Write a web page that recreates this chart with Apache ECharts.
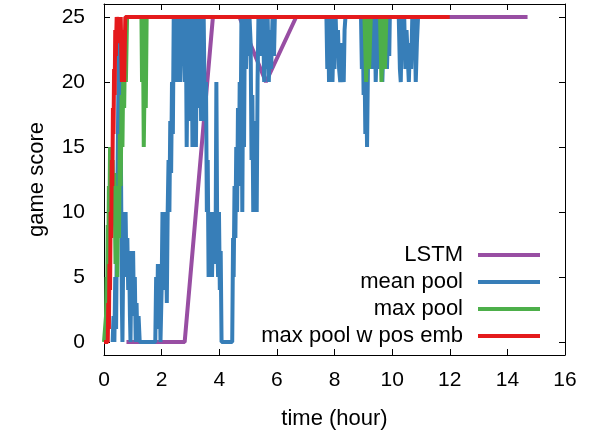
<!DOCTYPE html>
<html><head><meta charset="utf-8">
<script src="https://cdn.jsdelivr.net/npm/echarts@6/dist/echarts.min.js"></script>
<style>html,body{margin:0;padding:0;background:#fff}#c{width:590px;height:436px}</style>
</head><body><div id="c"></div>
<script>
const seriesNames = ['LSTM', 'mean pool', 'max pool', 'max pool w pos emb'];
const seriesColors = ['#984ea3', '#377eb8', '#4daf4a', '#e41a1c'];
const xTicks = [0, 2, 4, 6, 8, 10, 12, 14, 16];
const yTicks = [0, 5, 10, 15, 20, 25];

const lstm = [[0.78,0],[2.8,0],[3.78,25],[4.7,25],[5.62,20],[6.67,25],[14.7,25]];

const meanPool = [
  [0.3,0],[0.33,2],[0.36,0],[0.39,5],[0.42,1],[0.45,9],[0.48,15],[0.51,22],[0.54,25],[0.57,19],[0.6,10],[0.62,3],[0.64,0],
  [0.66,5],[0.69,10],[0.72,6],[0.75,10],[0.78,5],[0.81,8],[0.84,4],[0.87,7],[0.9,2],[0.92,0],[0.95,6],[0.98,3],[1.01,7],
  [1.04,2],[1.07,5],[1.1,0],[1.13,3],[1.16,0],[1.2,2],[1.24,0],[1.78,0],[1.81,5],[1.84,1],[1.87,6],[1.9,2],[1.93,6],[1.96,0],
  [2.0,4],[2.03,10],[2.06,6],[2.09,10],[2.12,4],[2.15,8],[2.18,3],[2.21,10],[2.24,14],[2.27,10],[2.3,17],[2.33,13],[2.36,20],
  [2.39,16],[2.42,25],[2.46,25],[2.5,20],[2.53,25],[2.57,21],[2.6,25],[2.64,20],[2.68,25],[2.72,22],[2.76,25],[2.8,20],
  [2.84,25],[2.87,15],[2.9,22],[2.93,17],[2.96,25],[3.0,19],[3.04,25],[3.07,15],[3.1,21],[3.13,17],[3.16,25],[3.19,15],
  [3.22,22],[3.25,18],[3.28,25],[3.31,19],[3.34,25],[3.37,17],[3.4,23],[3.43,18],[3.46,25],[3.5,17],[3.54,20],[3.57,10],
  [3.6,14],[3.63,5],[3.66,9],[3.69,6],[3.72,10],[3.75,5],[3.78,9],[3.81,6],[3.84,10],[3.87,6],[3.9,20],[3.93,8],[3.96,5],
  [3.99,10],[4.02,4],[4.05,7],[4.08,0],[4.45,0],[4.48,8],[4.5,5],[4.53,12],[4.56,8],[4.59,15],[4.62,10],[4.65,18],[4.68,12],
  [4.71,20],[4.74,15],[4.77,25],[4.8,10],[4.83,22],[4.86,15],[4.89,25],[4.93,21],[4.97,25],[5.01,22],[5.05,25],[5.09,23],
  [5.12,14],[5.15,19],[5.18,10],[5.21,16],[5.24,11],[5.27,17],[5.3,10],[5.33,20],[5.36,25],[5.4,22],[5.44,25],[5.48,22],
  [5.52,25],[5.56,20],[5.6,25],[5.64,21],[5.68,25],[5.72,20],[5.76,24],[5.8,21],[5.85,25],[5.9,22],[5.93,25],
  [7.72,25],[7.75,21],[7.78,25],[7.81,20],[7.84,24],[7.87,21],[7.9,25],[7.93,20],[7.96,23],[8.0,21],[8.04,25],[8.08,22],
  [8.12,24],[8.16,21],[8.2,20],[8.24,23],[8.28,21],[8.32,20],[8.35,24],[8.38,25],
  [8.92,25],[8.95,21],[8.98,25],[9.01,19],[9.04,22],[9.07,16],[9.1,20],[9.13,15],[9.16,21],[9.19,25],[9.22,21],[9.26,25],
  [9.33,25],[9.36,21],[9.4,25],[9.43,20],[9.47,23],[9.5,21],[9.54,25],[9.58,22],[9.62,25],[9.66,20],[9.7,23],[9.74,21],
  [9.78,25],[9.82,21],[9.86,24],[9.9,22],[9.92,25],
  [10.23,25],[10.27,21],[10.3,20],[10.34,25],[10.38,22],[10.42,25],[10.46,21],[10.5,24],[10.54,22],[10.58,20],[10.62,23],
  [10.66,21],[10.7,25],[10.74,22],[10.78,25],[10.82,20],[10.86,23],[10.9,25],[12,25]
];

const maxPool = [
  [0,0],[0.05,0],[0.07,2],[0.09,5],[0.11,3],[0.13,9],[0.15,7],[0.17,12],[0.19,10],[0.21,15],[0.23,13],[0.25,15],[0.27,11],
  [0.3,14],[0.33,9],[0.36,13],[0.4,6],[0.43,10],[0.46,5],[0.49,12],[0.52,8],[0.55,16],[0.58,12],[0.61,19],[0.64,15],
  [0.67,21],[0.7,18],[0.73,23],[0.76,20],[0.8,25],[1.3,25],[1.32,20],[1.35,25],[1.38,15],[1.42,22],[1.45,18],[1.48,25],
  [9.04,25],[9.1,20],[9.15,25],[9.2,21],[9.26,25],[9.58,25],[9.63,20],[9.7,25],[9.75,21],[9.8,25]
];

const maxPoolPos = [
  [0,0],[0.13,0],[0.15,3],[0.17,1],[0.19,6],[0.21,4],[0.23,10],[0.25,8],[0.27,14],[0.29,12],[0.31,18],[0.33,16],[0.35,21],
  [0.37,19],[0.39,24],[0.41,22],[0.44,25],[0.5,25],[0.55,23],[0.58,25],[0.62,20],[0.66,24],[0.7,20],[0.74,25],[12,25]
];

const allData = [lstm, meanPool, maxPool, maxPoolPos];
const font = 'Liberation Sans';
const chart = echarts.init(document.getElementById('c'), null, {renderer: 'canvas'});

function xAxisDef(pos, showLabels) {
  return {
    type: 'value', min: 0, max: 16, interval: 2, position: pos,
    axisLine: {show: true, onZero: false, lineStyle: {color: '#000', width: 1}},
    axisTick: {show: true, inside: true, length: 6, lineStyle: {color: '#000'}},
    axisLabel: {show: showLabels, fontSize: 21, color: '#000', margin: 15, fontFamily: font},
    splitLine: {show: false},
    name: showLabels ? 'time (hour)' : '', nameLocation: 'middle', nameGap: 53,
    nameTextStyle: {fontSize: 22, color: '#000', fontFamily: font}
  };
}
function yAxisDef(pos, showLabels) {
  return {
    type: 'value', min: -1, max: 26, position: pos,
    axisLine: {show: true, onZero: false, lineStyle: {color: '#000', width: 1}},
    axisTick: {show: true, inside: true, length: 6, customValues: yTicks, lineStyle: {color: '#000'}},
    axisLabel: {show: showLabels, customValues: yTicks, fontSize: 21, color: '#000', margin: 19, fontFamily: font},
    splitLine: {show: false},
    name: showLabels ? 'game score' : '', nameLocation: 'middle', nameGap: 56, nameRotate: 90,
    nameTextStyle: {fontSize: 22, color: '#000', fontFamily: font}
  };
}

chart.setOption({
  animation: false,
  backgroundColor: '#fff',
  grid: {left: 104, right: 25, top: 4, bottom: 81, containLabel: false},
  xAxis: [xAxisDef('bottom', true), xAxisDef('top', false)],
  yAxis: [yAxisDef('left', true), yAxisDef('right', false)],
  legend: {
    orient: 'vertical', right: 45, top: 239, align: 'right',
    itemWidth: 62, itemHeight: 4, itemGap: 5, icon: 'rect',
    textStyle: {fontSize: 22, color: '#000', fontFamily: font, padding: [0, 10, 0, 0]},
    data: seriesNames
  },
  series: seriesNames.map((n, i) => ({
    name: n, type: 'line', data: allData[i], showSymbol: false, symbol: 'none',
    xAxisIndex: 0, yAxisIndex: 0,
    lineStyle: {color: seriesColors[i], width: 4},
    itemStyle: {color: seriesColors[i]},
    emphasis: {disabled: true}
  }))
});
</script></body></html>
